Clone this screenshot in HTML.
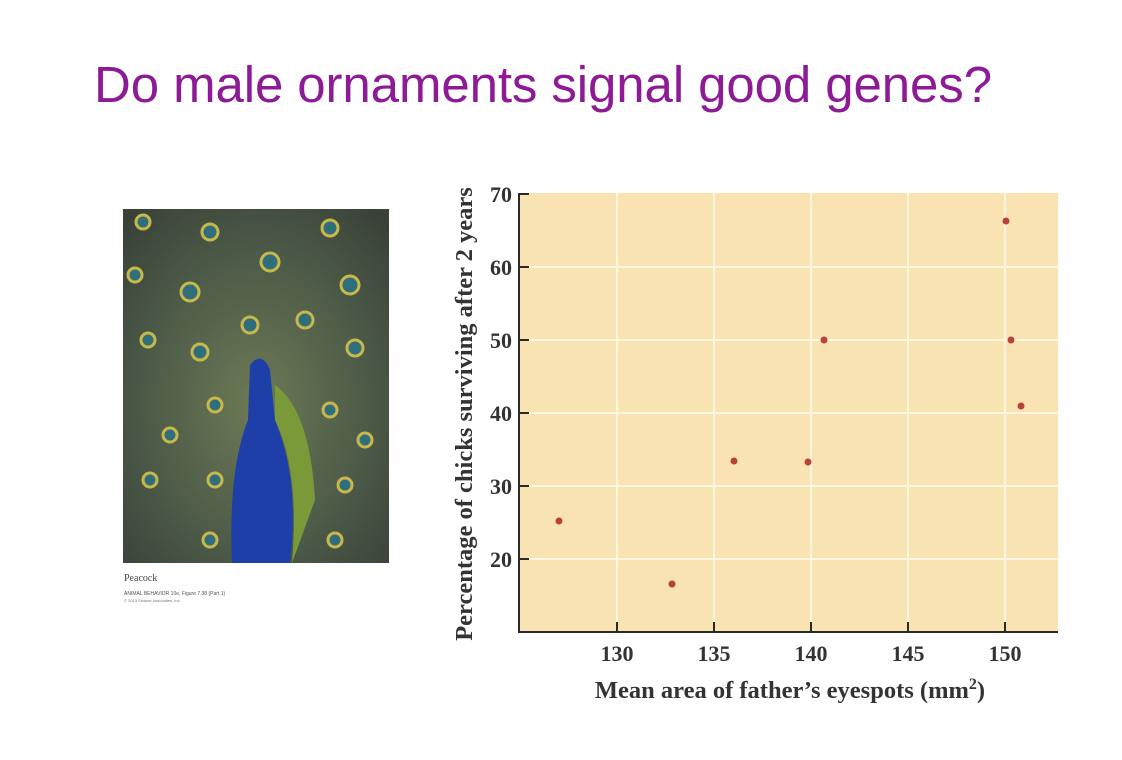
<!DOCTYPE html>
<html><head><style>
body{margin:0;width:1122px;height:760px;background:#fff;overflow:hidden;position:relative;font-family:"Liberation Sans",sans-serif}
h1{position:absolute;left:94px;top:55px;margin:0;font-weight:normal;font-size:51px;color:#8e1b96;letter-spacing:-0.1px;white-space:nowrap}
</style></head><body>
<h1>Do male ornaments signal good genes?</h1>
<svg width="1122" height="760" style="position:absolute;left:0;top:0">
<defs>
<radialGradient id="pg" cx="50%" cy="55%" r="70%">
<stop offset="0" stop-color="#6d7a55"/><stop offset="0.6" stop-color="#4c5a48"/><stop offset="1" stop-color="#3a4238"/>
</radialGradient>
</defs>
<rect x="123" y="209" width="266" height="354" fill="url(#pg)"/>
<g fill="#2f6e7a" stroke="#c8b84a" stroke-width="3">
<circle cx="143" cy="222" r="7"/><circle cx="210" cy="232" r="8"/><circle cx="270" cy="262" r="9"/><circle cx="330" cy="228" r="8"/>
<circle cx="190" cy="292" r="9"/><circle cx="350" cy="285" r="9"/><circle cx="135" cy="275" r="7"/><circle cx="250" cy="325" r="8"/>
<circle cx="305" cy="320" r="8"/><circle cx="200" cy="352" r="8"/><circle cx="355" cy="348" r="8"/><circle cx="148" cy="340" r="7"/>
<circle cx="215" cy="405" r="7"/><circle cx="330" cy="410" r="7"/><circle cx="170" cy="435" r="7"/><circle cx="365" cy="440" r="7"/>
<circle cx="150" cy="480" r="7"/><circle cx="215" cy="480" r="7"/><circle cx="345" cy="485" r="7"/><circle cx="210" cy="540" r="7"/><circle cx="335" cy="540" r="7"/>
</g>
<path d="M250 365 Q262 350 270 370 L275 420 Q300 480 290 563 L232 563 Q228 470 248 420 Z" fill="#1e3fa8"/>
<path d="M275 385 Q310 410 315 500 L292 563 Q300 470 275 420 Z" fill="#7a9a3a"/>
<text x="124" y="581" font-family="Liberation Serif" font-size="10" fill="#444">Peacock</text>
<text x="124" y="595" font-size="5" fill="#555">ANIMAL BEHAVIOR 10e, Figure 7.38 (Part 1)</text>
<text x="124" y="602" font-size="4" fill="#777">© 2013 Sinauer Associates, Inc.</text>

<rect x="519" y="193" width="539" height="439" fill="#f9e3b3"/>
<g stroke="#fff6e0" stroke-width="2">
<line x1="617" y1="193" x2="617" y2="632"/><line x1="714" y1="193" x2="714" y2="632"/>
<line x1="811" y1="193" x2="811" y2="632"/><line x1="908" y1="193" x2="908" y2="632"/>
<line x1="1005" y1="193" x2="1005" y2="632"/>
<line x1="519" y1="267" x2="1058" y2="267"/><line x1="519" y1="340" x2="1058" y2="340"/>
<line x1="519" y1="413" x2="1058" y2="413"/><line x1="519" y1="486" x2="1058" y2="486"/>
<line x1="519" y1="559" x2="1058" y2="559"/>
</g>
<g stroke="#2a2a2a" stroke-width="2" fill="none">
<polyline points="519,193 519,632 1058,632"/>
<line x1="519" y1="194" x2="529" y2="194"/><line x1="519" y1="267" x2="529" y2="267"/><line x1="519" y1="340" x2="529" y2="340"/>
<line x1="519" y1="413" x2="529" y2="413"/><line x1="519" y1="486" x2="529" y2="486"/><line x1="519" y1="559" x2="529" y2="559"/>
<line x1="617" y1="622" x2="617" y2="632"/><line x1="714" y1="622" x2="714" y2="632"/><line x1="811" y1="622" x2="811" y2="632"/>
<line x1="908" y1="622" x2="908" y2="632"/><line x1="1005" y1="622" x2="1005" y2="632"/>
</g>
<g font-family="Liberation Serif" font-size="22" font-weight="bold" fill="#333" text-anchor="end">
<text x="512" y="202">70</text><text x="512" y="275">60</text><text x="512" y="348">50</text>
<text x="512" y="421">40</text><text x="512" y="494">30</text><text x="512" y="567">20</text>
</g>
<g font-family="Liberation Serif" font-size="22" font-weight="bold" fill="#333" text-anchor="middle">
<text x="617" y="661">130</text><text x="714" y="661">135</text><text x="811" y="661">140</text>
<text x="908" y="661">145</text><text x="1005" y="661">150</text>
<text x="790" y="698" font-size="24.5">Mean area of father’s eyespots (mm<tspan font-size="16" dy="-9">2</tspan><tspan dy="9">)</tspan></text>
<text transform="translate(472,414) rotate(-90)" font-size="24.5">Percentage of chicks surviving after 2 years</text>
</g>
<g fill="#b8413a">
<circle cx="559" cy="521" r="3.5"/><circle cx="672" cy="584" r="3.5"/><circle cx="734" cy="461" r="3.5"/>
<circle cx="808" cy="462" r="3.5"/><circle cx="824" cy="340" r="3.5"/><circle cx="1006" cy="221" r="3.5"/>
<circle cx="1011" cy="340" r="3.5"/><circle cx="1021" cy="406" r="3.5"/>
</g>
</svg>
</body></html>
